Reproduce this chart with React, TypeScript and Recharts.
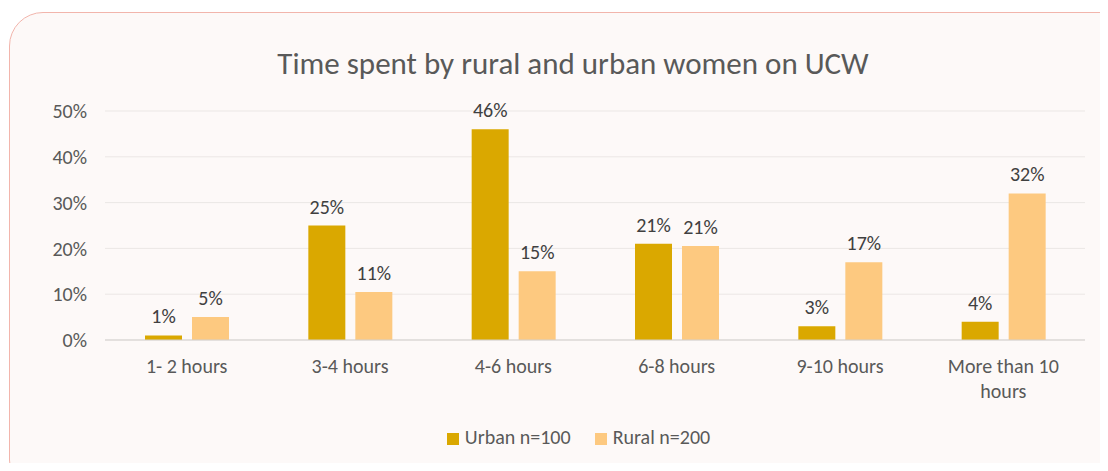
import React from "react"
import { Bar, BarChart, CartesianGrid, LabelList, Legend, XAxis, YAxis } from "recharts"

// values (fractions of 1)
const categories = ["1- 2 hours", "3-4 hours", "4-6 hours", "6-8 hours", "9-10 hours", "More than 10 hours"]
const urban = [0.01, 0.25, 0.46, 0.21, 0.03, 0.04]
const rural = [0.05, 0.105, 0.15, 0.205, 0.17, 0.32]
const yTicks = [0, 0.1, 0.2, 0.3, 0.4, 0.5]
const seriesOrder = ["Urban n=100", "Rural n=200"]

const FONT = "Carlito, Lato, 'Open Sans', sans-serif"
const URBAN_COLOR = "#daa800"
const RURAL_COLOR = "#fdc980"
const TEXT = "#595959"

const data = categories.map((name, i) => ({ name, urban: urban[i], rural: rural[i] }))

const pct = (v: number) => `${Math.round(v * 100)}%`

// long labels break before the last word, like the original
function splitLabel(s: string) {
  if (s.length <= 12) return [s]
  const i = s.lastIndexOf(" ")
  return [s.slice(0, i), s.slice(i + 1)]
}

function CategoryTick(props: any) {
  const { x, y, payload } = props
  const lines = splitLabel(String(payload.value))
  return (
    <text x={x} y={y + 25} textAnchor="middle" fontSize={20} fontFamily={FONT} fill={TEXT}>
      {lines.map((l, i) => (
        <tspan key={i} x={x} dy={i === 0 ? 0 : 25}>
          {l}
        </tspan>
      ))}
    </text>
  )
}

export default function App() {
  return (
    <div style={{ position: "relative", width: 1108, height: 471, margin: -8, background: "#fff", overflow: "hidden" }}>
      <div
        style={{
          position: "absolute",
          left: 9,
          top: 12,
          width: 1130,
          height: 480,
          border: "1.5px solid #f2b5ac",
          borderRadius: 34,
          background: "#fdf9f8",
        }}
      />
      <div
        style={{
          position: "absolute",
          left: 0,
          top: 44,
          width: 1146,
          textAlign: "center",
          fontFamily: FONT,
          fontSize: 31,
          color: TEXT,
        }}
      >
        Time spent by rural and urban women on UCW
      </div>
      <div style={{ position: "absolute", left: 0, top: 0 }}>
        <BarChart
          width={1108}
          height={471}
          data={data}
          margin={{ top: 111, right: 23, left: 0, bottom: 14 }}
          barSize={37}
          barGap={10}
        >
          <CartesianGrid vertical={false} stroke="#ebe7e5" />
          <XAxis
            dataKey="name"
            interval={0}
            tickLine={false}
            axisLine={{ stroke: "#d3d0ce" }}
            height={85}
            tick={<CategoryTick />}
          />
          <YAxis
            domain={[0, 0.5]}
            ticks={yTicks}
            tickFormatter={pct}
            axisLine={false}
            tickLine={false}
            tickSize={0}
            tickMargin={18}
            width={105}
            tick={{ fontSize: 20, fill: TEXT, fontFamily: FONT }}
          />
          <Legend
            verticalAlign="bottom"
            height={32}
            iconType="square"
            iconSize={12}
            itemSorter={(item: any) => seriesOrder.indexOf(item.value)}
            wrapperStyle={{ fontFamily: FONT, fontSize: 20, left: 48 }}
            formatter={(value) => <span style={{ color: TEXT, marginLeft: 2, marginRight: 14 }}>{value}</span>}
          />
          <Bar dataKey="urban" name="Urban n=100" fill={URBAN_COLOR} isAnimationActive={false}>
            <LabelList
              dataKey="urban"
              position="top"
              offset={12}
              formatter={(v: any) => pct(Number(v))}
              style={{ fontSize: 20, fill: "#404040", fontFamily: FONT }}
            />
          </Bar>
          <Bar dataKey="rural" name="Rural n=200" fill={RURAL_COLOR} isAnimationActive={false}>
            <LabelList
              dataKey="rural"
              position="top"
              offset={12}
              formatter={(v: any) => pct(Number(v))}
              style={{ fontSize: 20, fill: "#404040", fontFamily: FONT }}
            />
          </Bar>
        </BarChart>
      </div>
    </div>
  )
}
